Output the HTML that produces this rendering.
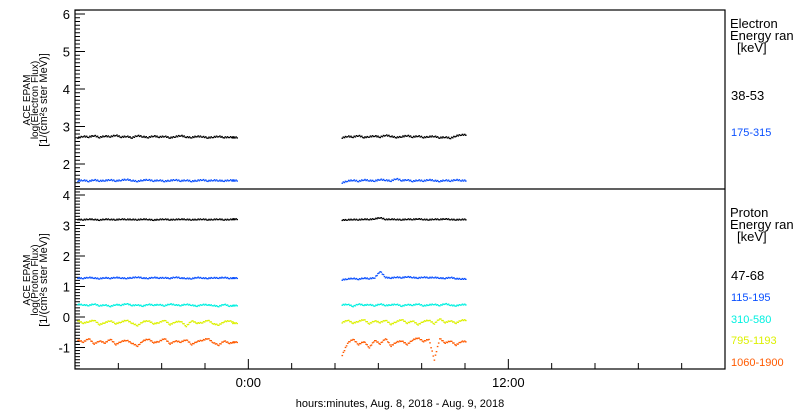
<!DOCTYPE html>
<html><head><meta charset="utf-8"><style>
body{margin:0;background:#fff;}
svg{display:block;font-family:"Liberation Sans",sans-serif;}
</style></head><body>
<svg id="c" width="800" height="410"></svg>
<script>
const tA=[-7.9,-7.65,-7.4,-7.15,-6.9,-6.65,-6.4,-6.15,-5.9,-5.65,-5.4,-5.15,-4.9,-4.65,-4.4,-4.15,-3.9,-3.65,-3.4,-3.15,-2.9,-2.65,-2.4,-2.15,-1.9,-1.65,-1.4,-1.15,-0.9,-0.75];
const tB=[4.3,4.55,4.8,5.05,5.3,5.55,5.8,6.05,6.3,6.55,6.8,7.05,7.3,7.55,7.8,8.05,8.3,8.55,8.8,9.05,9.3,9.55,9.8];
const eBlackA=[2.7,2.74,2.72,2.76,2.71,2.75,2.73,2.77,2.72,2.74,2.7,2.76,2.73,2.71,2.75,2.72,2.74,2.7,2.73,2.76,2.72,2.71,2.74,2.73,2.7,2.72,2.74,2.71,2.72,2.71];
const eBlackB=[2.7,2.74,2.72,2.76,2.71,2.73,2.75,2.72,2.77,2.74,2.71,2.73,2.76,2.72,2.75,2.71,2.73,2.74,2.7,2.72,2.69,2.75,2.78];
const eBlueA=[1.55,1.57,1.54,1.58,1.55,1.56,1.58,1.55,1.57,1.59,1.56,1.54,1.57,1.58,1.55,1.57,1.54,1.56,1.58,1.55,1.57,1.54,1.56,1.58,1.55,1.57,1.56,1.55,1.57,1.56];
const eBlueB=[1.5,1.55,1.57,1.54,1.58,1.56,1.55,1.59,1.57,1.55,1.61,1.56,1.58,1.54,1.57,1.55,1.58,1.56,1.54,1.57,1.55,1.58,1.56];
const pBlackA=[3.2,3.19,3.21,3.2,3.18,3.21,3.2,3.19,3.21,3.2,3.2,3.19,3.21,3.2,3.18,3.2,3.21,3.19,3.2,3.21,3.2,3.19,3.2,3.21,3.19,3.2,3.21,3.19,3.2,3.21];
const pBlackB=[3.18,3.19,3.2,3.19,3.21,3.2,3.22,3.26,3.2,3.21,3.2,3.19,3.21,3.2,3.22,3.2,3.19,3.21,3.2,3.22,3.2,3.19,3.2];
const pBlueA=[1.28,1.27,1.3,1.28,1.26,1.29,1.27,1.3,1.28,1.27,1.29,1.31,1.28,1.27,1.3,1.28,1.29,1.27,1.31,1.28,1.27,1.26,1.3,1.28,1.27,1.29,1.28,1.3,1.27,1.28];
const pBlueB=[1.22,1.25,1.27,1.24,1.28,1.26,1.29,1.5,1.3,1.28,1.31,1.29,1.32,1.3,1.28,1.31,1.29,1.3,1.28,1.27,1.3,1.26,1.25];
const pCyanA=[0.42,0.4,0.38,0.43,0.37,0.4,0.35,0.41,0.39,0.44,0.38,0.4,0.36,0.42,0.39,0.41,0.37,0.43,0.4,0.38,0.42,0.39,0.36,0.41,0.4,0.38,0.35,0.42,0.36,0.38];
const pCyanB=[0.4,0.42,0.35,0.43,0.39,0.41,0.37,0.43,0.38,0.4,0.42,0.36,0.41,0.39,0.43,0.37,0.4,0.42,0.38,0.44,0.39,0.37,0.41];
const pYelA=[-0.12,-0.2,-0.15,-0.1,-0.25,-0.18,-0.12,-0.22,-0.16,-0.1,-0.2,-0.28,-0.15,-0.12,-0.22,-0.18,-0.1,-0.25,-0.16,-0.14,-0.3,-0.12,-0.2,-0.18,-0.1,-0.22,-0.26,-0.15,-0.12,-0.2];
const pYelB=[-0.18,-0.1,-0.2,-0.14,-0.08,-0.22,-0.12,-0.18,-0.1,-0.24,-0.15,-0.08,-0.2,-0.12,-0.25,-0.14,-0.1,-0.22,-0.05,-0.18,-0.12,-0.2,-0.1];
const pOrA=[-0.75,-0.82,-0.7,-0.88,-0.78,-0.85,-0.72,-0.9,-0.8,-0.76,-0.86,-0.95,-0.78,-0.72,-0.84,-0.8,-0.7,-0.88,-0.78,-0.82,-0.74,-0.9,-0.8,-0.76,-0.7,-0.84,-0.92,-0.78,-0.86,-0.82];
const pOrB=[-1.25,-0.85,-0.72,-0.9,-0.8,-1.0,-0.76,-0.88,-0.7,-0.95,-0.82,-0.78,-0.9,-0.75,-0.68,-0.8,-0.72,-1.4,-0.7,-0.85,-0.78,-0.92,-0.8];
const xTickLabels=["0:00","12:00"];
const eYTicks=[2,3,4,5,6];
const pYTicks=[-1,0,1,2,3,4];

const svg=document.getElementById('c');
const NS='http://www.w3.org/2000/svg';
function mk(tag,attrs,parent){const e=document.createElementNS(NS,tag);for(const k in attrs)e.setAttribute(k,attrs[k]);(parent||svg).appendChild(e);return e;}
const L=75,R=725,T=10,MID=189,B=369;
const xs=h=>L+(h+8)*(R-L)/30;
const yE=v=>14+(6-v)*37.5;
const yP=v=>195+(4-v)*30.5;

function series(ts,vs,yf,col,name){
  const g=mk('g',{fill:col});
  
  
  for(let i=0;i<ts.length;i++){
    const x0=xs(ts[i]);
    const n=5;
    const next=i+1<ts.length?vs[i+1]:vs[i];
    for(let j=0;j<n;j++){
      const f=j/n;
      const v=vs[i]+(next-vs[i])*f+((j%2)?0.015:-0.01)*(yf===yE?1:1);
      const r=mk('rect',{x:(x0+f*5.4).toFixed(1),y:(yf(v)-0.5).toFixed(1),width:1.6,height:1.3},g);
    }
  }
}
// frame
const frame=mk('rect',{x:L,y:T,width:R-L,height:B-T,fill:'none',stroke:'#000','stroke-width':1.2});

const div=mk('line',{x1:L,x2:R,y1:MID,y2:MID,stroke:'#000','stroke-width':1.2});

// y ticks
function yticks(yf,lo,hi,major,top,bot,name){
  const g=mk('g',{stroke:'#000','stroke-width':1});
  
  for(let v=Math.ceil(lo*10);v<=hi*10;v++){
    const y=yf(v/10); if(y<top||y>bot)continue;
    const len=(v%10===0)?10:5;
    mk('line',{x1:L,x2:L+len,y1:y,y2:y},g);
  }
  major.forEach(m=>{const y=yf(m);if(y<top-6||y>bot)return;
    const t=mk('text',{x:L-5,y:y+5,'text-anchor':'end','font-size':13,fill:'#000',stroke:'none'},g);t.textContent=m;});
}
yticks(yE,1,6.2,eYTicks,T,MID,'electron-y-axis');
yticks(yP,-1.8,4.3,pYTicks,MID,B,'proton-y-axis');
// x ticks
const xg=mk('g',{stroke:'#000'});

for(let h=-6;h<=22;h+=2){const x=xs(h);const len=(h%12===0)?10:6;mk('line',{x1:x,x2:x,y1:B,y2:B-len},xg);}
[0,12].forEach((h,i)=>{const t=mk('text',{x:xs(h),y:387,'text-anchor':'middle','font-size':13,fill:'#000',stroke:'none'},xg);t.textContent=xTickLabels[i];});
const xt=mk('text',{x:400,y:407,'text-anchor':'middle','font-size':11,fill:'#000'});

xt.textContent='hours:minutes, Aug.  8, 2018 - Aug.  9, 2018';xt.setAttribute('xml:space','preserve');
// series
series(tA,eBlackA,yE,'#000','electron-38-53-a');series(tB,eBlackB,yE,'#000','electron-38-53-b');
series(tA,eBlueA,yE,'#0a50ff','electron-175-315-a');series(tB,eBlueB,yE,'#0a50ff','electron-175-315-b');
series(tA,pBlackA,yP,'#000','proton-47-68-a');series(tB,pBlackB,yP,'#000','proton-47-68-b');
series(tA,pBlueA,yP,'#0a50ff','proton-115-195-a');series(tB,pBlueB,yP,'#0a50ff','proton-115-195-b');
series(tA,pCyanA,yP,'#00f0e0','proton-310-580-a');series(tB,pCyanB,yP,'#00f0e0','proton-310-580-b');
series(tA,pYelA,yP,'#dcf000','proton-795-1193-a');series(tB,pYelB,yP,'#dcf000','proton-795-1193-b');
series(tA,pOrA,yP,'#ff5a00','proton-1060-1900-a');series(tB,pOrB,yP,'#ff5a00','proton-1060-1900-b');
// y titles
function ytitle(cy,lines,name){
  const g=mk('g',{transform:`translate(0,${cy}) rotate(-90)`});
  
  lines.forEach((s,i)=>{const t=mk('text',{x:0,y:[30,38,47][i],'text-anchor':'middle','font-size':[10,10,11][i],fill:'#000'},g);t.textContent=s;});
}
ytitle(100,['ACE EPAM','log(Electron Flux)','[1/(cm²s ster MeV)]'],'electron-y-title');
ytitle(280,['ACE EPAM','log(Proton Flux)','[1/(cm²s ster MeV)]'],'proton-y-title');
// legends
function lab(x,y,s,col,fs,name){const t=mk('text',{x:x,y:y,'font-size':fs,fill:col});t.textContent=s;}
lab(730,28,'Electron','#000',13,'electron-legend-title');lab(730,40,'Energy ran','#000',13,'electron-legend-subtitle');lab(737,52,'[keV]','#000',13,'electron-legend-unit');
lab(731,100,'38-53','#000',13,'legend-38-53');lab(731,136,'175-315','#0a50ff',11,'legend-175-315');
lab(730,217,'Proton','#000',13,'proton-legend-title');lab(730,229,'Energy ran','#000',13,'proton-legend-subtitle');lab(737,241,'[keV]','#000',13,'proton-legend-unit');
lab(731,280,'47-68','#000',13,'legend-47-68');lab(731,301,'115-195','#0a50ff',11,'legend-115-195');
lab(731,323,'310-580','#00f0e0',11,'legend-310-580');lab(731,344,'795-1193','#dcf000',11,'legend-795-1193');
lab(731,366,'1060-1900','#ff5a00',11,'legend-1060-1900');
</script>
</body></html>
